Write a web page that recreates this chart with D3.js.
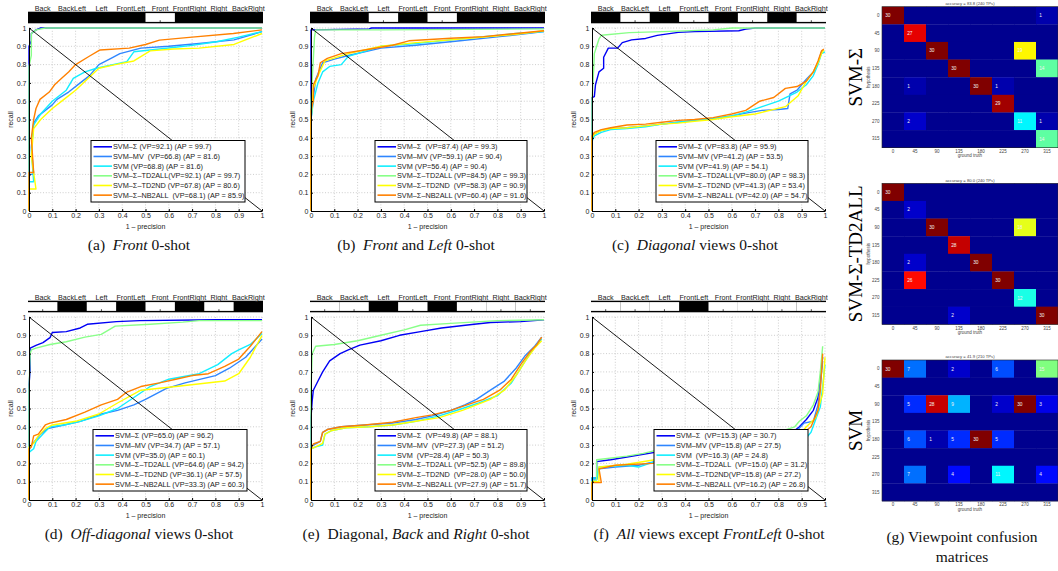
<!DOCTYPE html>
<html>
<head>
<meta charset="utf-8">
<script src="https://cdn.jsdelivr.net/npm/d3@7"></script>
<style>
  body { margin: 0; background: #fff; }
  svg text { font-family: "Liberation Sans", Arial, sans-serif; }
  svg text.serif { font-family: "Liberation Serif", "Times New Roman", serif; }
</style>
</head>
<body>
<svg id="fig" width="1058" height="571"></svg>
<script>
// ---------- data ----------
const viewNames = ["Back", "BackLeft", "Left", "FrontLeft", "Front", "FrontRight", "Right", "BackRight"];
const prTicks = [0, 0.1, 0.2, 0.3, 0.4, 0.5, 0.6, 0.7, 0.8, 0.9, 1];
const seriesNames = ["SVM–Σ", "SVM–MV", "SVM", "SVM–Σ–TD2ALL", "SVM–Σ–TD2ND", "SVM–Σ–NB2ALL"];

// test (0-shot) views shown white in the strip, per panel
const testA = [4];
const testB = [2, 4];
const testC = [1, 3, 5, 7];
const testD = [0, 2, 4, 6];
const testE = [0, 1, 3, 5, 6, 7];
const testF = [0, 1, 2, 4, 5, 6, 7];

// legend strings, per panel
const legendA = ["SVM–Σ (VP=92.1) (AP = 99.7)", "SVM–MV  (VP=66.8) (AP = 81.6)", "SVM (VP=68.8) (AP = 81.6)",
  "SVM–Σ–TD2ALL(VP=92.1) (AP = 99.7)", "SVM–Σ–TD2ND (VP=67.8) (AP = 80.6)", "SVM–Σ–NB2ALL  (VP=68.1) (AP = 85.9)"];
const legendB = ["SVM–Σ  (VP=87.4) (AP = 99.3)", "SVM–MV (VP=59.1) (AP = 90.4)", "SVM (VP=56.4) (AP = 90.4)",
  "SVM–Σ–TD2ALL (VP=84.5) (AP = 99.3)", "SVM–Σ–TD2ND  (VP=58.3) (AP = 90.9)", "SVM–Σ–NB2ALL (VP=60.4) (AP = 91.6)"];
const legendC = ["SVM–Σ (VP=83.8) (AP = 95.9)", "SVM–MV (VP=41.2) (AP = 53.5)", "SVM (VP=41.9) (AP = 54.1)",
  "SVM–Σ–TD2ALL(VP=80.0) (AP = 98.3)", "SVM–Σ–TD2ND (VP=41.3) (AP = 53.4)", "SVM–Σ–NB2ALL (VP=42.0) (AP = 54.7)"];
const legendD = ["SVM–Σ (VP=65.0) (AP = 96.2)", "SVM–MV (VP=34.7) (AP = 57.1)", "SVM (VP=35.0) (AP = 60.1)",
  "SVM–Σ–TD2ALL (VP=64.6) (AP = 94.2)", "SVM–Σ–TD2ND (VP=36.1) (AP = 57.5)", "SVM–Σ–NB2ALL (VP=33.3) (AP = 60.3)"];
const legendE = ["SVM–Σ  (VP=49.8) (AP = 88.1)", "SVM–MV  (VP=27.3) (AP = 51.2)", "SVM  (VP=28.4) (AP = 50.3)",
  "SVM–Σ–TD2ALL (VP=52.5) (AP = 89.8)", "SVM–Σ–TD2ND  (VP=28.0) (AP = 50.0)", "SVM–Σ–NB2ALL (VP=27.9) (AP = 51.7)"];
const legendF = ["SVM–Σ  (VP=15.3) (AP = 30.7)", "SVM–MV (VP=15.8) (AP = 27.5)", "SVM  (VP=16.3) (AP = 24.8)",
  "SVM–Σ–TD2ALL  (VP=15.0) (AP = 31.2)", "SVM–Σ–TD2ND(VP=15.8) (AP = 27.2)", "SVM–Σ–NB2ALL (VP=16.2) (AP = 26.8)"];

// precision-recall curves: [1 - precision, recall], order = seriesNames
const prA = [
  [[0,0],[0,0.9],[0.01,0.93],[0.01,0.97],[0.03,0.99],[0.05,1],[1,1]],
  [[0,0],[0,0.2],[0.02,0.2],[0.01,0.35],[0.02,0.48],[0.04,0.52],[0.07,0.55],[0.1,0.58],[0.12,0.61],[0.17,0.65],[0.22,0.7],[0.26,0.74],[0.3,0.8],[0.36,0.84],[0.39,0.86],[0.48,0.89],[0.6,0.9],[0.73,0.915],[0.88,0.935],[1,0.98]],
  [[0,0],[0,0.16],[0.02,0.16],[0.01,0.33],[0.02,0.47],[0.05,0.53],[0.1,0.6],[0.16,0.66],[0.19,0.725],[0.24,0.76],[0.29,0.78],[0.36,0.8],[0.42,0.816],[0.45,0.87],[0.59,0.889],[0.7,0.905],[0.805,0.925],[0.9,0.95],[1,0.98]],
  [[0,0],[0,0.79],[0.01,0.85],[0.01,0.97],[0.03,0.99],[0.07,1],[1,1]],
  [[0,0],[0,0.12],[0.03,0.12],[0.01,0.3],[0.02,0.45],[0.05,0.5],[0.1,0.56],[0.15,0.61],[0.2,0.66],[0.25,0.72],[0.3,0.78],[0.37,0.8],[0.45,0.82],[0.52,0.875],[0.62,0.885],[0.73,0.89],[0.88,0.91],[1,0.97]],
  [[0,0],[0,0.21],[0.02,0.21],[0.01,0.4],[0.02,0.5],[0.03,0.56],[0.047,0.61],[0.087,0.65],[0.11,0.69],[0.14,0.725],[0.17,0.76],[0.2,0.8],[0.255,0.843],[0.305,0.88],[0.43,0.89],[0.5,0.91],[0.56,0.934],[0.7,0.95],[0.877,0.97],[1,0.99]]
];
const prB = [
  [[0,0],[0,0.99],[0.25,0.995],[0.26,1],[1,1]],
  [[0,0],[0,0.5],[0.01,0.62],[0.02,0.72],[0.05,0.81],[0.1,0.83],[0.16,0.85],[0.3,0.89],[0.45,0.906],[0.64,0.93],[0.81,0.953],[1,0.98]],
  [[0,0],[0,0.5],[0.01,0.6],[0.03,0.7],[0.05,0.76],[0.08,0.79],[0.13,0.8],[0.16,0.845],[0.3,0.9],[0.45,0.915],[0.59,0.934],[0.88,0.97],[1,0.98]],
  [[0,0],[0,0.6],[0.01,0.83],[0.015,0.95],[0.02,0.99],[0.3,0.99],[1,0.995]],
  [[0,0],[0,0.5],[0.01,0.67],[0.03,0.74],[0.06,0.82],[0.16,0.86],[0.3,0.9],[0.45,0.92],[0.6,0.935],[0.88,0.965],[1,0.985]],
  [[0,0],[0,0.55],[0.01,0.6],[0.01,0.69],[0.03,0.74],[0.04,0.81],[0.07,0.834],[0.13,0.86],[0.23,0.88],[0.35,0.906],[0.42,0.93],[0.6,0.944],[0.74,0.953],[0.88,0.97],[1,0.985]]
];
const prC = [
  [[0,0],[0,0.62],[0.01,0.625],[0.015,0.69],[0.03,0.76],[0.05,0.78],[0.05,0.84],[0.07,0.89],[0.11,0.89],[0.13,0.92],[0.17,0.935],[0.23,0.943],[0.28,0.96],[0.37,0.976],[0.44,0.98],[0.63,0.985],[0.66,0.994],[0.7,1],[1,1]],
  [[0,0],[0,0.39],[0.01,0.42],[0.04,0.44],[0.08,0.45],[0.15,0.455],[0.23,0.465],[0.3,0.475],[0.37,0.485],[0.44,0.495],[0.52,0.505],[0.6,0.52],[0.66,0.535],[0.73,0.55],[0.8,0.555],[0.84,0.56],[0.85,0.64],[0.88,0.66],[0.92,0.72],[0.95,0.76],[0.97,0.81],[0.985,0.87],[0.995,0.88]],
  [[0,0],[0,0.38],[0.01,0.41],[0.04,0.43],[0.08,0.445],[0.15,0.45],[0.23,0.46],[0.3,0.475],[0.37,0.485],[0.44,0.495],[0.52,0.505],[0.6,0.52],[0.66,0.54],[0.73,0.57],[0.8,0.6],[0.88,0.65],[0.92,0.69],[0.95,0.74],[0.97,0.8],[0.985,0.86],[1,0.87]],
  [[0,0],[0,0.6],[0.007,0.77],[0.01,0.86],[0.03,0.94],[0.04,0.96],[0.16,0.975],[0.3,0.98],[0.52,0.99],[0.6,1],[1,1]],
  [[0,0],[0,0.4],[0.01,0.42],[0.04,0.44],[0.08,0.45],[0.15,0.455],[0.23,0.465],[0.3,0.475],[0.37,0.48],[0.44,0.49],[0.52,0.5],[0.6,0.515],[0.7,0.53],[0.83,0.57],[0.885,0.63],[0.92,0.71],[0.95,0.76],[0.97,0.81],[0.985,0.86],[0.995,0.88]],
  [[0,0],[0,0.41],[0.01,0.43],[0.04,0.445],[0.08,0.455],[0.15,0.47],[0.23,0.475],[0.3,0.485],[0.37,0.495],[0.44,0.5],[0.52,0.51],[0.6,0.53],[0.66,0.55],[0.72,0.6],[0.78,0.62],[0.83,0.67],[0.88,0.68],[0.92,0.71],[0.95,0.76],[0.97,0.82],[0.985,0.875],[0.995,0.885]]
];
const prD = [
  [[0,0],[0,0.63],[0.005,0.71],[0.005,0.83],[0.03,0.845],[0.06,0.86],[0.09,0.887],[0.1,0.915],[0.16,0.92],[0.22,0.94],[0.25,0.96],[0.375,0.975],[0.475,0.98],[0.8,0.985],[1,0.985]],
  [[0,0],[0,0.27],[0.01,0.3],[0.03,0.33],[0.05,0.36],[0.08,0.39],[0.15,0.41],[0.22,0.43],[0.31,0.47],[0.38,0.49],[0.45,0.52],[0.5,0.55],[0.59,0.61],[0.67,0.64],[0.8,0.68],[0.86,0.72],[0.93,0.78],[1,0.88]],
  [[0,0],[0,0.26],[0.02,0.28],[0.03,0.32],[0.06,0.36],[0.09,0.4],[0.15,0.41],[0.22,0.43],[0.3,0.46],[0.38,0.5],[0.45,0.56],[0.52,0.62],[0.6,0.66],[0.73,0.69],[0.81,0.74],[0.87,0.8],[0.9,0.82],[0.95,0.85],[1,0.91]],
  [[0,0],[0,0.6],[0.005,0.8],[0.01,0.82],[0.03,0.83],[0.09,0.85],[0.16,0.865],[0.24,0.89],[0.31,0.905],[0.37,0.95],[0.52,0.96],[0.66,0.972],[0.73,0.98],[1,0.98]],
  [[0,0],[0,0.29],[0.02,0.31],[0.04,0.35],[0.07,0.39],[0.1,0.41],[0.2,0.43],[0.3,0.47],[0.38,0.53],[0.48,0.6],[0.63,0.62],[0.84,0.65],[0.9,0.69],[0.95,0.78],[1,0.9]],
  [[0,0],[0,0.28],[0.01,0.29],[0.02,0.35],[0.04,0.36],[0.07,0.41],[0.09,0.42],[0.16,0.44],[0.24,0.48],[0.31,0.52],[0.38,0.55],[0.42,0.59],[0.48,0.62],[0.56,0.64],[0.63,0.66],[0.7,0.68],[0.77,0.69],[0.84,0.73],[0.9,0.77],[0.95,0.84],[1,0.92]]
];
const prE = [
  [[0,0],[0,0.45],[0.005,0.54],[0.01,0.6],[0.03,0.65],[0.05,0.7],[0.08,0.76],[0.125,0.8],[0.16,0.82],[0.21,0.846],[0.3,0.87],[0.38,0.9],[0.47,0.92],[0.56,0.94],[0.7,0.96],[0.77,0.97],[0.9,0.975],[1,0.985]],
  [[0,0],[0,0.29],[0.01,0.3],[0.04,0.32],[0.05,0.37],[0.07,0.385],[0.13,0.4],[0.23,0.41],[0.35,0.42],[0.45,0.44],[0.52,0.46],[0.6,0.49],[0.66,0.52],[0.71,0.55],[0.77,0.6],[0.83,0.65],[0.88,0.72],[0.92,0.79],[0.96,0.84],[0.99,0.89]],
  [[0,0],[0,0.28],[0.02,0.29],[0.05,0.3],[0.06,0.36],[0.09,0.38],[0.15,0.395],[0.25,0.4],[0.35,0.41],[0.45,0.43],[0.55,0.46],[0.65,0.5],[0.72,0.53],[0.8,0.57],[0.86,0.64],[0.9,0.72],[0.94,0.8],[0.97,0.85],[0.99,0.88]],
  [[0,0],[0,0.6],[0.005,0.8],[0.02,0.84],[0.1,0.85],[0.2,0.87],[0.3,0.9],[0.4,0.93],[0.47,0.955],[0.6,0.965],[0.8,0.98],[1,0.985]],
  [[0,0],[0,0.28],[0.02,0.29],[0.05,0.31],[0.06,0.36],[0.09,0.38],[0.15,0.395],[0.25,0.4],[0.35,0.41],[0.45,0.43],[0.55,0.45],[0.65,0.49],[0.77,0.55],[0.83,0.6],[0.88,0.68],[0.92,0.76],[0.96,0.83],[0.99,0.87]],
  [[0,0],[0,0.28],[0.01,0.306],[0.04,0.32],[0.05,0.37],[0.07,0.385],[0.13,0.4],[0.23,0.41],[0.35,0.425],[0.45,0.45],[0.52,0.465],[0.6,0.49],[0.67,0.52],[0.74,0.55],[0.81,0.6],[0.86,0.66],[0.9,0.74],[0.94,0.81],[0.97,0.85],[0.99,0.89]]
];
const prF = [
  [[0,0],[0,0.12],[0.02,0.12],[0.02,0.21],[0.08,0.22],[0.15,0.235],[0.22,0.25],[0.27,0.26],[0.45,0.29],[0.7,0.33],[0.87,0.38],[0.89,0.4],[0.92,0.44],[0.95,0.49],[0.97,0.56],[0.98,0.66],[0.99,0.78]],
  [[0,0],[0,0.11],[0.02,0.11],[0.03,0.17],[0.1,0.18],[0.2,0.19],[0.27,0.21],[0.5,0.26],[0.75,0.33],[0.88,0.38],[0.91,0.42],[0.95,0.43],[0.97,0.52],[0.98,0.63],[0.99,0.76]],
  [[0,0],[0,0.12],[0.02,0.12],[0.03,0.18],[0.15,0.19],[0.2,0.18],[0.27,0.21],[0.5,0.25],[0.8,0.31],[0.92,0.34],[0.94,0.37],[0.96,0.44],[0.98,0.51],[0.99,0.62],[1,0.74]],
  [[0,0],[0,0.1],[0.02,0.11],[0.02,0.22],[0.15,0.24],[0.22,0.255],[0.27,0.27],[0.5,0.3],[0.75,0.35],[0.87,0.4],[0.89,0.43],[0.92,0.46],[0.95,0.52],[0.97,0.59],[0.98,0.7],[0.99,0.84]],
  [[0,0],[0,0.1],[0.03,0.1],[0.03,0.18],[0.15,0.195],[0.27,0.22],[0.5,0.26],[0.8,0.33],[0.9,0.37],[0.92,0.4],[0.96,0.45],[0.99,0.58],[1,0.78]],
  [[0,0],[0,0.095],[0.04,0.095],[0.03,0.17],[0.1,0.19],[0.26,0.2],[0.5,0.25],[0.8,0.33],[0.92,0.38],[0.94,0.4],[0.97,0.49],[0.98,0.6],[0.99,0.8]]
];

// confusion matrices (rows = hypothesis, cols = ground truth)
const angleLabels = ["0", "45", "90", "135", "180", "225", "270", "315"];
const confSigma = [
  [30,0,0,0,0,0,0,1],
  [0,27,0,0,0,0,0,0],
  [0,0,30,0,0,0,19,0],
  [0,0,0,30,0,0,0,14],
  [0,1,0,0,30,1,0,0],
  [0,0,0,0,0,29,0,0],
  [0,2,0,0,0,0,11,1],
  [0,0,0,0,0,0,0,14]
];
const confTD2ALL = [
  [30,0,0,0,0,0,0,0],
  [0,2,0,0,0,0,0,0],
  [0,0,30,0,0,0,18,0],
  [0,0,0,28,0,0,0,0],
  [0,2,0,0,30,0,0,0],
  [0,26,0,0,0,30,0,0],
  [0,0,0,0,0,0,12,0],
  [0,0,0,2,0,0,0,30]
];
const confSVM = [
  [30,7,0,2,0,6,0,15],
  [0,0,0,0,0,0,0,0],
  [0,5,28,9,0,2,30,3],
  [0,0,0,0,0,0,0,0],
  [0,6,1,5,30,5,0,0],
  [0,0,0,0,0,0,0,0],
  [0,7,0,4,0,11,0,4],
  [0,0,0,0,0,0,0,0]
];
const matTitles = ["accuracy = 83.8 (240 TPs)", "accuracy = 80.0 (240 TPs)", "accuracy = 41.9 (210 TPs)"];
const matNames = ["SVM-Σ", "SVM-Σ-TD2ALL", "SVM"];

// ---------- drawing ----------
const svg = d3.select("#fig");
const colors = ["#0000f5", "#2f86ff", "#11eeff", "#88ff88", "#ffff00", "#ff8000"];
const W = 233, H = 183;

const panels = [
  { pos: [29, 28], curves: prA, legend: legendA, test: testA, legX: 62, legW: 154, capX: 139,
    cap: [["(a)  ", false], ["Front", true], [" 0-shot", false]] },
  { pos: [311, 28], curves: prB, legend: legendB, test: testB, legX: 64, legW: 152, capX: 416,
    cap: [["(b)  ", false], ["Front", true], [" and ", false], ["Left", true], [" 0-shot", false]] },
  { pos: [592, 28], curves: prC, legend: legendC, test: testC, legX: 64, legW: 152, capX: 695,
    cap: [["(c)  ", false], ["Diagonal", true], [" views 0-shot", false]] },
  { pos: [29, 317], curves: prD, legend: legendD, test: testD, legX: 64, legW: 154, capX: 139,
    cap: [["(d)  ", false], ["Off-diagonal", true], [" views 0-shot", false]] },
  { pos: [311, 317], curves: prE, legend: legendE, test: testE, legX: 64, legW: 152, capX: 416,
    cap: [["(e)  Diagonal, ", false], ["Back", true], [" and ", false], ["Right", true], [" 0-shot", false]] },
  { pos: [592, 317], curves: prF, legend: legendF, test: testF, legX: 62, legW: 154, capX: 709,
    cap: [["(f)  ", false], ["All", true], [" views except ", false], ["FrontLeft", true], [" 0-shot", false]] }
];

panels.forEach(p => {
  const [x0, top] = p.pos;
  const g = svg.append("g").attr("transform", `translate(${x0},${top})`);
  const x = d3.scaleLinear().domain([0, 1]).range([0, W]);
  const y = d3.scaleLinear().domain([0, 1]).range([H, 0]);

  // view strip above the plot
  const sx = d3.scaleBand().domain(viewNames).range([-1, W + 1]);
  const strip = g.append("g").attr("transform", "translate(0,-16.3)");
  strip.append("rect").attr("x", -1).attr("y", 0).attr("width", W + 2).attr("height", 11.6).attr("fill", "#000");
  strip.selectAll("rect.t").data(p.test.map(k => viewNames[k])).join("rect")
    .attr("class", "t").attr("x", d => sx(d)).attr("y", 1.4)
    .attr("width", sx.bandwidth()).attr("height", 8.8).attr("fill", "#fff");
  strip.selectAll("line.tk").data(viewNames).join("line")
    .attr("x1", d => sx(d) + sx.bandwidth() / 2).attr("x2", d => sx(d) + sx.bandwidth() / 2)
    .attr("y1", 8.6).attr("y2", 10.2).attr("stroke", "#000").attr("stroke-width", 0.8);
  strip.selectAll("text").data(viewNames).join("text")
    .attr("x", d => sx(d) + sx.bandwidth() / 2).attr("y", -1.2)
    .attr("text-anchor", "middle").attr("font-size", 7.2).attr("fill", "#222").text(d => d);

  // grid
  const grid = g.append("g").attr("stroke", "#b8b8b8").attr("stroke-width", 0.7).attr("stroke-dasharray", "1,1.8");
  grid.selectAll("line.v").data(prTicks.slice(1)).join("line")
    .attr("x1", d => x(d)).attr("x2", d => x(d)).attr("y1", 0).attr("y2", H);
  grid.selectAll("line.h").data(prTicks.slice(1)).join("line")
    .attr("y1", d => y(d)).attr("y2", d => y(d)).attr("x1", 0).attr("x2", W);

  // curves
  const line = d3.line().x(d => x(d[0])).y(d => y(d[1]));
  g.selectAll("path.pr").data(p.curves).join("path")
    .attr("class", "pr").attr("d", line).attr("fill", "none")
    .attr("stroke", (d, i) => colors[i]).attr("stroke-width", 1.4).attr("stroke-linejoin", "round");

  // diagonal
  g.append("line").attr("x1", x(0)).attr("y1", y(1)).attr("x2", x(1)).attr("y2", y(0))
    .attr("stroke", "#000").attr("stroke-width", 0.9);

  // axes
  const ax = g.append("g").attr("transform", `translate(0,${H})`)
    .call(d3.axisBottom(x).tickValues(prTicks).tickFormat(d => String(d)).tickSizeInner(-2).tickSizeOuter(0).tickPadding(2.5));
  const ay = g.append("g")
    .call(d3.axisLeft(y).tickValues(prTicks).tickFormat(d => String(d)).tickSizeInner(-2).tickSizeOuter(0).tickPadding(2.5));
  [ax, ay].forEach(a => {
    a.attr("font-size", 7).attr("font-family", null);
    a.selectAll("text").attr("fill", "#222");
    a.select(".domain").attr("stroke", "#000").attr("stroke-width", 1);
  });
  g.append("text").attr("x", W / 2).attr("y", H + 17.5).attr("text-anchor", "middle")
    .attr("font-size", 7).attr("fill", "#222").text("1 – precision");
  g.append("text").attr("transform", `translate(-16,${H / 2}) rotate(-90)`).attr("text-anchor", "middle")
    .attr("font-size", 7).attr("fill", "#222").text("recall");

  // legend
  const lh = 61.5, rowH = 9.67;
  const lg = g.append("g").attr("transform", `translate(${p.legX},${H - 9 - lh})`);
  lg.append("rect").attr("width", p.legW).attr("height", lh).attr("fill", "#fff").attr("stroke", "#000").attr("stroke-width", 1);
  const rows = lg.selectAll("g.row").data(p.legend).join("g")
    .attr("transform", (d, i) => `translate(0,${6.3 + i * rowH})`);
  rows.append("line").attr("x1", 2.5).attr("x2", 21).attr("stroke", (d, i) => colors[i]).attr("stroke-width", 1.6);
  rows.append("text").attr("x", 22).attr("y", 2.6).attr("font-size", 7.3).attr("fill", "#222")
    .style("white-space", "pre").text(d => d);

  // caption
  const cap = svg.append("text").attr("class", "serif").attr("x", p.capX).attr("y", top + 222)
    .attr("text-anchor", "middle").attr("font-size", 15.5).attr("fill", "#111").style("white-space", "pre");
  cap.selectAll("tspan").data(p.cap).join("tspan")
    .attr("font-style", d => d[1] ? "italic" : null).text(d => d[0]);
});

// ---------- confusion matrices ----------
const jet = d3.scaleLinear()
  .domain([0, 3.75, 11.25, 18.75, 26.25, 30])
  .range(["#00008f", "#0000ff", "#00ffff", "#ffff00", "#ff0000", "#800000"]);
const mats = [confSigma, confTD2ALL, confSVM];
const matTops = [6.7, 183.3, 360];
const matH = 141;
const mx = d3.scaleBand().domain(angleLabels).range([882, 1058]);

mats.forEach((m, k) => {
  const top = matTops[k];
  const my = d3.scaleBand().domain(angleLabels).range([top, top + matH]);
  const g = svg.append("g");
  const cells = m.flatMap((row, r) => row.map((v, c) => ({ r, c, v })));
  g.selectAll("rect.cell").data(cells).join("rect")
    .attr("x", d => mx(angleLabels[d.c])).attr("y", d => my(angleLabels[d.r]))
    .attr("width", mx.bandwidth() + 0.3).attr("height", my.bandwidth() + 0.3)
    .attr("fill", d => jet(d.v));
  g.selectAll("text.val").data(cells.filter(d => d.v > 0)).join("text")
    .attr("x", d => mx(angleLabels[d.c]) + 3.2).attr("y", d => my(angleLabels[d.r]) + my.bandwidth() / 2 + 1.7)
    .attr("font-size", 4.8).attr("fill", "#f2f2f2").text(d => d.v);
  g.append("rect").attr("x", 882).attr("y", top).attr("width", 176).attr("height", matH)
    .attr("fill", "none").attr("stroke", "#222").attr("stroke-width", 0.6);
  g.selectAll("text.yl").data(angleLabels).join("text")
    .attr("x", 879.5).attr("y", d => my(d) + my.bandwidth() / 2 + 1.6)
    .attr("text-anchor", "end").attr("font-size", 4.5).attr("fill", "#444").text(d => d);
  g.selectAll("text.xl").data(angleLabels).join("text")
    .attr("x", d => mx(d) + mx.bandwidth() / 2).attr("y", top + matH + 5.3)
    .attr("text-anchor", "middle").attr("font-size", 4.5).attr("fill", "#444").text(d => d);
  g.append("text").attr("x", 970).attr("y", top + matH + 9.6).attr("text-anchor", "middle")
    .attr("font-size", 4.5).attr("fill", "#444").text("ground truth");
  g.append("text").attr("transform", `translate(870,${top + matH / 2}) rotate(-90)`).attr("text-anchor", "middle")
    .attr("font-size", 4.5).attr("fill", "#444").text("hypothesis");
  g.append("text").attr("x", 970).attr("y", top - 1.6).attr("text-anchor", "middle")
    .attr("font-size", 4.2).attr("fill", "#444").text(matTitles[k]);
  g.append("text").attr("class", "serif").attr("transform", `translate(862,${top + matH / 2}) rotate(-90)`)
    .attr("text-anchor", "middle").attr("font-size", 19).attr("fill", "#000").text(matNames[k]);
});

svg.append("text").attr("class", "serif").attr("x", 962).attr("y", 542).attr("text-anchor", "middle")
  .attr("font-size", 15.5).attr("fill", "#111").text("(g) Viewpoint confusion");
svg.append("text").attr("class", "serif").attr("x", 962).attr("y", 562).attr("text-anchor", "middle")
  .attr("font-size", 15.5).attr("fill", "#111").text("matrices");
</script>
</body>
</html>
